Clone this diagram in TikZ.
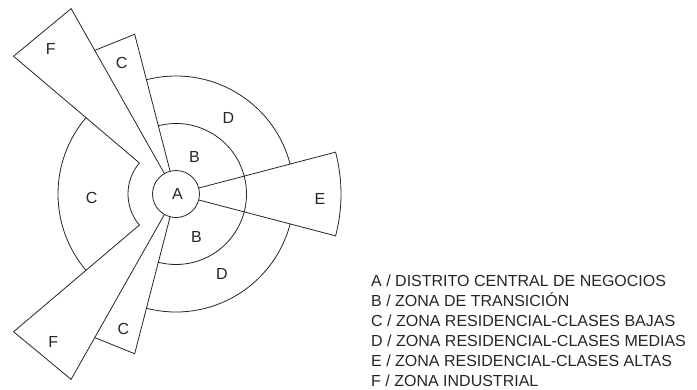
\documentclass[tikz,border=0pt]{standalone}
\usepackage{fontspec}
\setmainfont{Liberation Sans}
\begin{document}
\begin{tikzpicture}[x=1pt,y=1pt,
  zone/.style={draw=black!85, line width=0.8pt, line join=miter},
  lbl/.style={inner sep=0pt, font=\fontsize{16}{19}\selectfont, text=black!85},
  legend/.style={inner sep=0pt, anchor=base west, font=\fontsize{16}{19}\selectfont, text=black!85}]
\useasboundingbox (-176,194) rectangle (521,-195);
\fill[white] (-176,194) rectangle (521,-195);

% radii of the rings and wedges
\def\rA{23.5}\def\rIn{48}\def\rB{70.5}\def\rD{118}\def\rW{165}\def\rF{213}

% central business district
\draw[zone] (0,0) circle[radius=\rA];

% transition zone ring (right side)
\draw[zone] (104.5:\rB) arc[start angle=104.5, end angle=-104.5, radius=\rB];

% middle-class arcs
\draw[zone] (104.5:\rD) arc[start angle=104.5, end angle=14.7, radius=\rD];
\draw[zone] (-14.7:\rD) arc[start angle=-14.7, end angle=-104.5, radius=\rD];

% high-class wedge
\draw[zone] (14.7:\rA) -- (14.7:\rW) arc[start angle=14.7, end angle=-14.7, radius=\rW] -- (-14.7:\rA);

% low-class wedges
\draw[zone] (104.5:\rA) -- (104.5:\rW) -- (119.5:\rW);
\draw[zone] (-104.5:\rA) -- (-104.5:\rW) -- (-119.5:\rW);

% industrial wedges joined by the inner low-class arc
\draw[zone] (119.5:\rA) -- (119.5:\rF) -- (139.7:\rF) -- (139.7:\rIn)
  arc[start angle=139.7, end angle=220.3, radius=\rIn]
  -- (220.3:\rF) -- (240.5:\rF) -- (240.5:\rA);

% outer low-class arc
\draw[zone] (139.7:\rD) arc[start angle=139.7, end angle=220.3, radius=\rD];

% zone letters
\node[lbl] (lA)  at (1.5,0.5) {A};
\node[lbl] (lB1) at (18.5,37.5) {B};
\node[lbl] (lB2) at (20.5,-43) {B};
\node[lbl] (lD1) at (52.5,76.5) {D};
\node[lbl] (lD2) at (46,-79.5) {D};
\node[lbl] (lE)  at (144,-5.3) {E};
\node[lbl] (lC1) at (-84.3,-4.3) {C};
\node[lbl] (lC2) at (-54.3,131.5) {C};
\node[lbl] (lC3) at (-52.7,-135.3) {C};
\node[lbl] (lF1) at (-125.3,144.7) {F};
\node[lbl] (lF2) at (-122.7,-147.7) {F};

% legend
\node[legend] (k1) at (195,-92)  {A / DISTRITO CENTRAL DE NEGOCIOS};
\node[legend] (k2) at (195,-112) {B / ZONA DE TRANSICIÓN};
\node[legend] (k3) at (195,-132) {C / ZONA RESIDENCIAL-CLASES BAJAS};
\node[legend] (k4) at (195,-152) {D / ZONA RESIDENCIAL-CLASES MEDIAS};
\node[legend] (k5) at (195,-172) {E / ZONA RESIDENCIAL-CLASES ALTAS};
\node[legend] (k6) at (195,-192) {F / ZONA INDUSTRIAL};
\end{tikzpicture}
\end{document}
